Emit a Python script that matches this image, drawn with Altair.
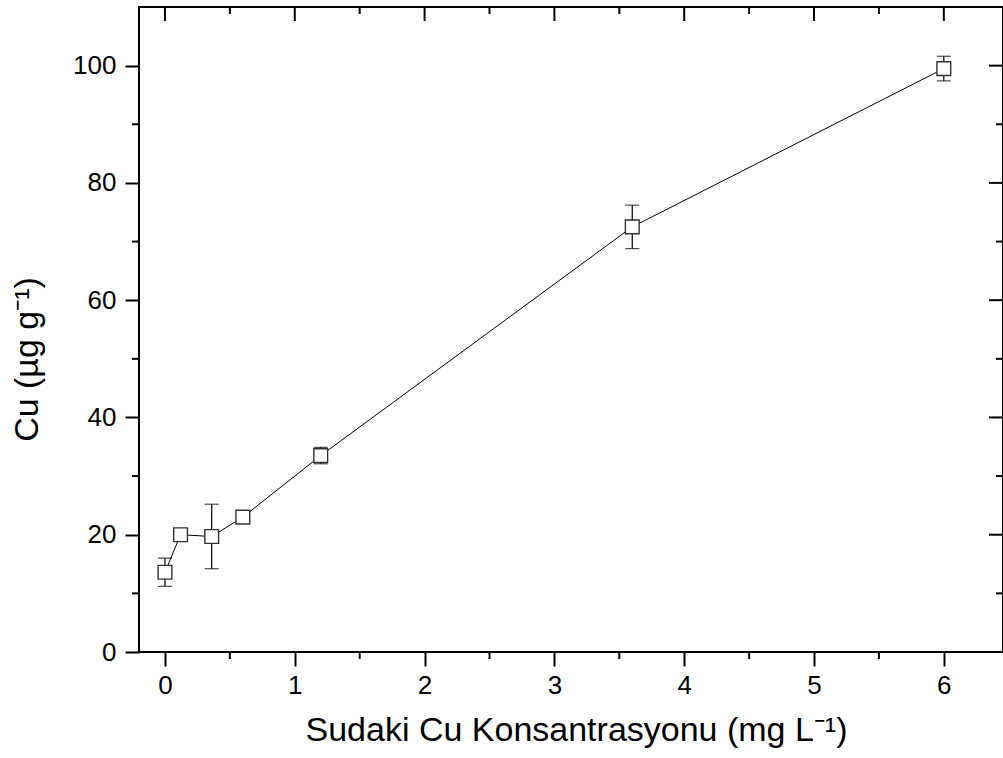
import altair as alt
import pandas as pd

# data
conc = [0.0, 0.12, 0.36, 0.6, 1.2, 3.6, 6.0]
cu = [13.6, 20.0, 19.7, 23.0, 33.5, 72.5, 99.5]
err = [2.4, 0.8, 5.5, 0.8, 1.4, 3.7, 2.1]

x_major = [0, 1, 2, 3, 4, 5, 6]
x_minor = [0.5, 1.5, 2.5, 3.5, 4.5, 5.5]
y_major = [0, 20, 40, 60, 80, 100]
y_minor = [10, 30, 50, 70, 90]

W, H = 864, 645
FONT = "Liberation Sans"

df = pd.DataFrame({
    "conc": conc,
    "cu": cu,
    "lo": [c - e for c, e in zip(cu, err)],
    "hi": [c + e for c, e in zip(cu, err)],
})

xs = alt.Scale(domain=[-0.2, 6.456], nice=False, zero=False)
ys = alt.Scale(domain=[0, 110], nice=False, zero=False)

x_title = "Sudaki Cu Konsantrasyonu (mg L\u207b\u00b9)"
y_title = "Cu (\u00b5g g\u207b\u00b9)"

x_axis = alt.Axis(values=x_major, tickSize=14, tickWidth=2, tickColor="black",
                  domain=False, grid=False, labelFont=FONT, labelFontSize=26,
                  labelColor="black", labelPadding=6, title=x_title,
                  titleFont=FONT, titleFontSize=34, titleFontWeight="normal",
                  titleColor="black", titlePadding=15, titleX=437, format="d")
y_axis = alt.Axis(values=y_major, tickSize=14, tickWidth=2, tickColor="black",
                  domain=False, grid=False, labelFont=FONT, labelFontSize=26,
                  labelColor="black", labelPadding=9, title=y_title,
                  titleFont=FONT, titleFontSize=34, titleFontWeight="normal",
                  titleColor="black", titlePadding=28, titleY=352, format="d")

base = alt.Chart(df)

line = base.mark_line(color="black", strokeWidth=1).encode(
    x=alt.X("conc:Q", scale=xs, axis=x_axis),
    y=alt.Y("cu:Q", scale=ys, axis=y_axis),
)
bars = base.mark_rule(color="black", strokeWidth=1.2).encode(
    x=alt.X("conc:Q"), y=alt.Y("lo:Q"), y2="hi:Q"
)
cap_lo = base.mark_tick(color="black", orient="horizontal", size=14, thickness=1.2).encode(
    x=alt.X("conc:Q"), y=alt.Y("lo:Q")
)
cap_hi = base.mark_tick(color="black", orient="horizontal", size=14, thickness=1.2).encode(
    x=alt.X("conc:Q"), y=alt.Y("hi:Q")
)
squares = base.mark_square(size=190, fill="white", stroke="#333333",
                           strokeWidth=1.4, opacity=1).encode(
    x=alt.X("conc:Q"), y=alt.Y("cu:Q")
)

xmaj = pd.DataFrame({"conc": x_major})
xmin = pd.DataFrame({"conc": x_minor})
ymaj = pd.DataFrame({"cu": y_major})
ymin = pd.DataFrame({"cu": y_minor})

def xticks(d, y0, y1):
    return alt.Chart(d).mark_rule(color="black", strokeWidth=2).encode(
        x=alt.X("conc:Q"), y=alt.value(y0), y2=alt.value(y1)
    )

def yticks(d, x0, x1):
    return alt.Chart(d).mark_rule(color="black", strokeWidth=2).encode(
        y=alt.Y("cu:Q"), x=alt.value(x0), x2=alt.value(x1)
    )

ticks = [
    xticks(xmin, H, H + 7),      # bottom minor (outward)
    xticks(xmaj, 0, 14),         # top major (inward)
    xticks(xmin, 0, 7),          # top minor (inward)
    yticks(ymin, 0, -7),         # left minor (outward)
    yticks(ymaj, W, W - 14),     # right major (inward)
    yticks(ymin, W, W - 7),      # right minor (inward)
]

chart = alt.layer(line, bars, cap_lo, cap_hi, squares, *ticks).properties(
    width=W, height=H,
    autosize=alt.AutoSizeParams(type="none"),
    padding={"left": 139, "top": 7, "right": 0, "bottom": 106},
    background="white",
).configure_view(stroke="black", strokeWidth=2)

chart.save("out.html", embed_options={"renderer": "svg", "actions": False})
